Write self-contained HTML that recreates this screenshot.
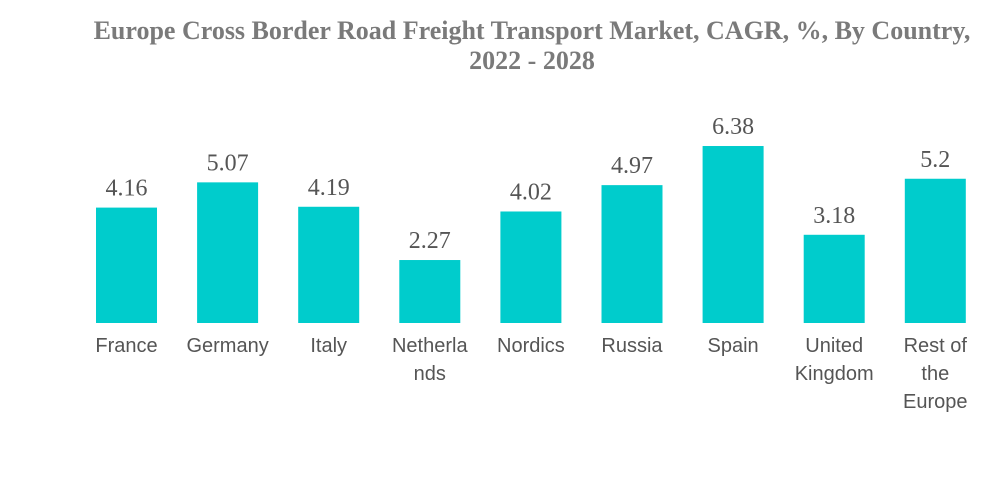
<!DOCTYPE html>
<html><head><meta charset="utf-8"><style>
body{margin:0;background:#fff;width:1000px;height:483px;overflow:hidden}
</style></head><body>
<svg width="1000" height="483">
<text x="532" y="39" text-anchor="middle" font-family="Liberation Serif, serif" font-weight="bold" font-size="26" fill="#7a7a7a">Europe Cross Border Road Freight Transport Market, CAGR, %, By Country,</text>
<text x="532" y="69" text-anchor="middle" font-family="Liberation Serif, serif" font-weight="bold" font-size="26" fill="#7a7a7a">2022 - 2028</text>
<g id="bars"></g>
</svg>
<script>
const categories=[["France"],["Germany"],["Italy"],["Netherla","nds"],["Nordics"],["Russia"],["Spain"],["United","Kingdom"],["Rest of","the","Europe"]];
const values=[4.16,5.07,4.19,2.27,4.02,4.97,6.38,3.18,5.2];
const labels=["4.16","5.07","4.19","2.27","4.02","4.97","6.38","3.18","5.2"];
const base=323, scale=27.74, x0=96, step=101.1, bw=61;
const xPos=i=>x0+i*step, yPos=v=>base-v*scale;
const g=document.getElementById('bars'), NS="http://www.w3.org/2000/svg";
values.forEach((v,i)=>{
 const r=document.createElementNS(NS,'rect');
 r.setAttribute('x',xPos(i));r.setAttribute('y',yPos(v));r.setAttribute('width',bw);r.setAttribute('height',base-yPos(v));r.setAttribute('fill','#00cccc');
 
 
 g.appendChild(r);
 const t=document.createElementNS(NS,'text');
 t.setAttribute('x',xPos(i)+bw/2);t.setAttribute('y',yPos(v)-12);t.setAttribute('text-anchor','middle');
 t.setAttribute('font-family','Liberation Serif, serif');t.setAttribute('font-size','24');t.setAttribute('fill','#555');
 t.textContent=labels[i];
 
 
 g.appendChild(t);
 categories[i].forEach((line,j)=>{
  const c=document.createElementNS(NS,'text');
  c.setAttribute('x',xPos(i)+bw/2);c.setAttribute('y',352+j*28);c.setAttribute('text-anchor','middle');
  c.setAttribute('font-family','Liberation Sans, sans-serif');c.setAttribute('font-size','20');c.setAttribute('fill','#555');
  c.textContent=line;
  
  
  g.appendChild(c);
 });
});
</script>
</body></html>
